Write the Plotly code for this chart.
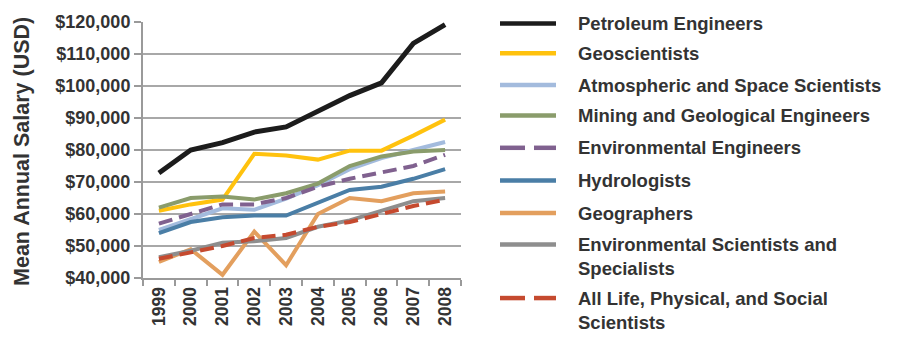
import plotly.graph_objects as go

# Mean annual salary by occupation, 1999-2008
years = ["1999", "2000", "2001", "2002", "2003", "2004", "2005", "2006", "2007", "2008"]

petroleum_engineers = [72800, 80000, 82300, 85600, 87200, 92000, 97000, 101000, 113300, 119200]
geoscientists = [61000, 63000, 64500, 78800, 78300, 77000, 79800, 79800, 84500, 89500]
atmospheric_space = [55000, 58500, 61800, 61300, 64800, 69000, 74000, 77500, 80000, 82500]
mining_geological = [62000, 65000, 65500, 64500, 66500, 69500, 75000, 78000, 79500, 80000]
environmental_engineers = [57000, 60000, 63000, 63000, 65000, 68500, 71000, 73000, 75000, 78500]
hydrologists = [54000, 57500, 59000, 59500, 59500, 63500, 67500, 68500, 71000, 74000]
geographers = [45000, 49000, 41000, 54500, 44000, 60000, 65000, 64000, 66500, 67000]
environmental_scientists = [46500, 48500, 51000, 51500, 52500, 56000, 58000, 61000, 64000, 65000]
all_scientists = [46000, 48000, 50000, 52500, 53500, 56000, 57500, 60000, 62500, 64500]

series_names = [
    "Petroleum Engineers",
    "Geoscientists",
    "Atmospheric and Space Scientists",
    "Mining and Geological Engineers",
    "Environmental Engineers",
    "Hydrologists",
    "Geographers",
    "Environmental Scientists and<br>Specialists",
    "All Life, Physical, and Social<br>Scientists",
]
series_values = [
    petroleum_engineers, geoscientists, atmospheric_space, mining_geological,
    environmental_engineers, hydrologists, geographers,
    environmental_scientists, all_scientists,
]
series_colors = ["#1c1c1c", "#ffc20e", "#a3bbdd", "#8a9c6b", "#80618f",
                 "#4a7ea6", "#e39f5e", "#8e8e8e", "#c54a2f"]
series_widths = [5, 4, 4, 4, 4, 4, 4, 4, 4]
series_dashes = ["solid", "solid", "solid", "solid", "14px,7px",
                 "solid", "solid", "solid", "14px,7px"]

y_ticks = [40000, 50000, 60000, 70000, 80000, 90000, 100000, 110000, 120000]

# plot-area geometry (px)
W, H = 907, 338
L, R, T, B = 143, 461, 15, 283
pw, ph = R - L, B - T

def px_x(p):
    return (p - L) / pw

def px_y(p):
    return (B - p) / ph

TEXT = "#333333"
FONT = "Liberation Sans, Arial, sans-serif"
LEG_SIZE = 18.5

fig = go.Figure()
for name, vals, col, w, d in zip(series_names, series_values, series_colors,
                                  series_widths, series_dashes):
    fig.add_trace(go.Scatter(
        x=years, y=vals, mode="lines", name=name.replace("<br>", " "),
        line=dict(color=col, width=w, dash=d), showlegend=False,
    ))

# Legend rows: y of the line sample / first text line (px from top)
legend_rows = [16.7, 47.7, 81, 113, 146.7, 181, 215, 248, 304]
shapes = []
annotations = []
for ly, name, col, d in zip(legend_rows, series_names, series_colors, series_dashes):
    if d == "solid":
        segs = [(500, 556)]
    else:
        segs = [(500, 525), (534, 556)]
    for a, b in segs:
        shapes.append(dict(type="line", xref="paper", yref="paper",
                           x0=px_x(a), x1=px_x(b), y0=px_y(ly), y1=px_y(ly),
                           line=dict(color=col, width=4.5)))
    # top of the text box so the first line centres on the sample
    top = ly - LEG_SIZE * 0.65 - 1
    annotations.append(dict(
        text=name, xref="paper", yref="paper", x=px_x(576), y=px_y(top),
        xanchor="left", yanchor="top", align="left", showarrow=False,
        font=dict(family=FONT, size=LEG_SIZE, color=TEXT, weight="bold"),
    ))

annotations.append(dict(
    text="Mean Annual Salary (USD)", xref="paper", yref="paper",
    x=px_x(22), y=px_y(150), textangle=-90, showarrow=False,
    xanchor="center", yanchor="middle",
    font=dict(family=FONT, size=21.5, color=TEXT, weight="bold"),
))

fig.update_layout(
    width=W, height=H,
    margin=dict(l=L, r=W - R, t=T, b=H - B, pad=0),
    paper_bgcolor="white", plot_bgcolor="white",
    shapes=shapes, annotations=annotations,
    font=dict(family=FONT, color=TEXT),
)
fig.update_xaxes(
    type="category", tickson="boundaries", ticks="outside", ticklen=6,
    tickcolor="#9a9a9a", tickwidth=2, tickangle=-90,
    showline=True, linecolor="#9a9a9a", linewidth=2, showgrid=False,
    tickfont=dict(family=FONT, size=17.5, color=TEXT, weight="bold"),
    range=[-0.5, 9.5],
)
fig.update_yaxes(
    range=[40000, 120000], tickvals=y_ticks, tickformat="$,.0f",
    ticks="outside", ticklen=7, tickcolor="#9a9a9a", tickwidth=2,
    showline=True, linecolor="#9a9a9a", linewidth=2,
    showgrid=True, gridcolor="#a8a8a8", gridwidth=2, zeroline=False,
    tickfont=dict(family=FONT, size=18, color=TEXT, weight="bold"),
)

fig.write_html("out.html")
